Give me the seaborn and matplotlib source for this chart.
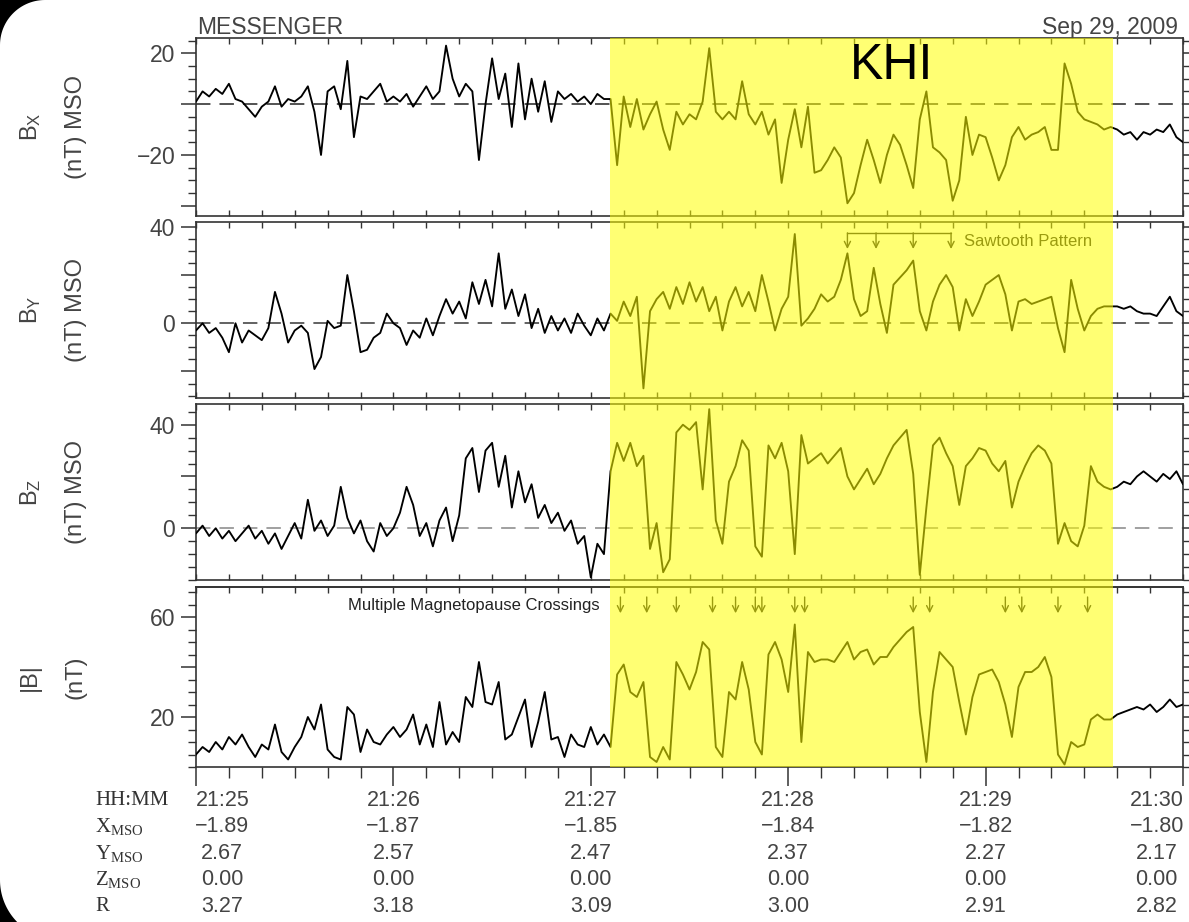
import numpy as np
import pandas as pd
import seaborn as sns
import matplotlib
matplotlib.use("Agg")
import matplotlib.pyplot as plt
from matplotlib.patches import Rectangle, Polygon
from matplotlib.transforms import blended_transform_factory
from matplotlib.ticker import MultipleLocator, FixedLocator, FuncFormatter

# ---------------- data ----------------
# seconds after 21:25:00, 2-s sampling
seconds = np.arange(0, 301, 2)

bx = [1, 5, 3, 6, 4, 8, 2, 1, -2, -5,
      -1, 1, 7, -1, 2, 1, 3, 7, -3, -20,
      5, 7, -2, 17, -13, 3, 2, 5, 8, 1,
      3, 1, 4, -1, 3, 7, 2, 5, 23, 10,
      3, 8, 5, -22, 0, 18, 2, 12, -9, 16,
      -6, 10, -3, 9, -7, 5, 2, 4, 1, 3,
      0, 4, 2, 2, -24, 3, -9, 2, -10, -4,
      1, -10, -18, -3, -8, -4, -6, 1, 22, -3,
      -6, -3, -6, 9, -4, -8, -3, -12, -6, -31,
      -14, -2, -17, -1, -27, -26, -22, -17, -21, -39,
      -35, -24, -14, -22, -31, -20, -12, -16, -24, -33,
      -6, 5, -17, -19, -22, -38, -30, -5, -20, -12,
      -13, -21, -30, -24, -13, -9, -14, -12, -11, -9,
      -18, -18, 16, 8, -3, -6, -7, -8, -10, -9,
      -10, -12, -11, -14, -11, -12, -10, -11, -8, -13,
      -15]

by = [-3, 0, -4, -2, -6, -12, 0, -8, -3, -5,
      -7, -2, 13, 4, -8, -3, -1, -4, -19, -14,
      1, -2, -1, 20, 5, -12, -11, -6, -4, 4,
      0, -2, -9, -3, -6, 2, -5, 3, 10, 4,
      9, 2, 17, 8, 18, 7, 29, 6, 14, 3,
      12, -2, 6, -4, 3, -3, 2, -4, 4, -1,
      -5, 2, -3, 4, 1, 9, 3, 11, -27, 5,
      10, 13, 6, 15, 8, 17, 9, 15, 5, 11,
      -3, 9, 15, 7, 13, 5, 20, 9, -3, 6,
      11, 37, -1, 2, 6, 12, 9, 11, 18, 29,
      10, 3, 5, 23, 8, -4, 16, 19, 22, 26,
      5, -3, 9, 16, 20, 15, -3, 10, 3, 9,
      16, 18, 20, 12, -3, 9, 10, 8, 9, 10,
      11, -2, -12, 18, 6, -3, 3, 6, 7, 7,
      7, 6, 7, 5, 4, 4, 3, 7, 11, 5,
      3]

bz = [-2, 1, -3, 0, -4, -1, -5, -2, 1, -4,
      -1, -6, -2, -8, -3, 2, -4, 11, -1, 3,
      -3, 1, 16, 4, -2, 3, -5, -9, 2, -3,
      0, 6, 16, 9, -3, 2, -7, 3, 8, -5,
      5, 27, 31, 14, 30, 33, 16, 28, 8, 22,
      10, 17, 4, 9, 2, 6, -1, 3, -6, -3,
      -19, -6, -10, 22, 33, 26, 33, 24, 28, -8,
      2, -17, -12, 37, 40, 38, 41, 15, 46, 3,
      -6, 18, 24, 34, 30, -7, -11, 32, 27, 33,
      22, -10, 36, 25, 27, 29, 25, 28, 31, 20,
      15, 19, 23, 17, 21, 27, 32, 35, 38, 21,
      -18, 8, 32, 35, 29, 24, 9, 24, 27, 31,
      30, 25, 22, 26, 8, 18, 24, 29, 32, 30,
      25, -6, 2, -5, -7, 1, 24, 18, 16, 15,
      16, 18, 17, 20, 22, 20, 18, 21, 19, 22,
      17]

btot = [5, 8, 6, 10, 7, 12, 9, 13, 8, 4,
        9, 7, 17, 6, 3, 8, 12, 20, 15, 25,
        7, 4, 3, 24, 21, 6, 15, 10, 9, 13,
        16, 12, 15, 21, 9, 17, 8, 26, 9, 14,
        10, 28, 24, 42, 26, 25, 34, 11, 13, 20,
        27, 8, 18, 30, 11, 12, 4, 13, 9, 8,
        16, 9, 13, 8, 37, 41, 30, 28, 34, 4,
        2, 8, 3, 42, 37, 31, 38, 50, 47, 8,
        4, 30, 27, 42, 31, 10, 5, 45, 50, 43,
        30, 57, 10, 46, 42, 43, 43, 42, 46, 50,
        43, 46, 47, 41, 44, 44, 48, 51, 54, 56,
        22, 2, 30, 46, 43, 40, 26, 13, 28, 37,
        38, 39, 34, 25, 12, 32, 38, 38, 40, 44,
        36, 5, 1, 10, 8, 9, 19, 21, 19, 19,
        21, 22, 23, 24, 23, 25, 22, 24, 27, 24,
        25]

khi_start, khi_end = 125.8, 278.7            # seconds
crossing_times = [129, 137, 146, 157, 164, 170, 172, 182, 185,
                  218, 223, 246, 251, 262, 271]
sawtooth_times = [198, 206.7, 218, 229.5]

time_labels = ["21:25", "21:26", "21:27", "21:28", "21:29", "21:30"]
x_mso = ["\u22121.89", "\u22121.87", "\u22121.85", "\u22121.84", "\u22121.82", "\u22121.80"]
y_mso = ["2.67", "2.57", "2.47", "2.37", "2.27", "2.17"]
z_mso = ["0.00", "0.00", "0.00", "0.00", "0.00", "0.00"]
r_vals = ["3.27", "3.18", "3.09", "3.00", "2.91", "2.82"]

df = pd.DataFrame({"t": seconds, "bx": bx, "by": by, "bz": bz, "b": btot})

# ---------------- style ----------------
sns.set_theme(style="ticks")
plt.rcParams["font.family"] = ["Liberation Sans", "DejaVu Sans"]
plt.rcParams["mathtext.default"] = "regular"
plt.rcParams["axes.edgecolor"] = "#333333"
plt.rcParams["axes.linewidth"] = 1.2

W, H = 1189, 922
fig = plt.figure(figsize=(W / 100, H / 100), dpi=100)
fig.patch.set_facecolor("white")

def rect(top, bottom):
    return [196 / W, 1 - bottom / H, 987 / W, (bottom - top) / H]

GRAY = "#444444"
panels = [
    ("bx", rect(38, 216), (-44, 26), [-40, -20, 0, 20], {-20, 20}, "B$_X$", "(nT) MSO", "#444444"),
    ("by", rect(222, 398), (-31, 42), [-20, 0, 20, 40], {0, 40}, "B$_Y$", "(nT) MSO", "#555555"),
    ("bz", rect(404, 580), (-20, 48), [0, 20, 40], {0, 40}, "B$_Z$", "(nT) MSO", "#999999"),
    ("b", rect(587, 767), (0, 72), [20, 40, 60], {20, 60}, "|B|", "(nT)", None),
]

axes = []
for col, pos, ylim, majors, labelled, lab1, lab2, dash_col in panels:
    ax = fig.add_axes(pos)
    sns.lineplot(data=df, x="t", y=col, ax=ax, color="black", linewidth=1.35,
                 estimator=None, zorder=3)
    if dash_col is not None:
        ax.axhline(0, color=dash_col, lw=1.3, dashes=(8, 5), zorder=2)
    ax.set_xlim(0, 300)
    ax.set_ylim(*ylim)
    ax.set_xlabel("")
    ax.set_ylabel("")
    ax.set_facecolor("white")
    ax.yaxis.set_major_locator(FixedLocator(majors))
    ax.yaxis.set_minor_locator(MultipleLocator(5))
    ax.yaxis.set_major_formatter(FuncFormatter(
        lambda v, p, L=labelled: (f"{int(v)}".replace("-", "\u2212") if int(round(v)) in L else "")))
    ax.tick_params(axis="y", which="major", direction="out", left=True, right=True,
                   length=11, width=1.1, color="#333333", labelsize=16.5,
                   labelcolor=GRAY, pad=4)
    ax.tick_params(axis="y", which="minor", direction="out", left=True, right=True,
                   length=6, width=1.0, color="#333333")
    ax.xaxis.set_major_locator(MultipleLocator(60))
    ax.xaxis.set_minor_locator(MultipleLocator(10))
    ax.tick_params(axis="x", which="both", direction="in", top=True, bottom=True,
                   labelbottom=False, length=4, width=1.0, color="#333333")
    for s in ax.spines.values():
        s.set_color("#333333")
        s.set_linewidth(1.2)
    ax.text(-0.168, 0.5, lab1, transform=ax.transAxes, rotation=90, ha="center",
            va="center", fontsize=17, color=GRAY)
    ax.text(-0.122, 0.5, lab2, transform=ax.transAxes, rotation=90, ha="center",
            va="center", fontsize=17, color=GRAY)
    axes.append(ax)

ax1, ax2, ax3, ax4 = axes
# bottom axis: outward ticks below, inward ticks on top
ax4.tick_params(axis="x", which="both", direction="out", top=False, bottom=True)
ax4.tick_params(axis="x", which="major", length=14, width=1.1)
ax4.tick_params(axis="x", which="minor", length=8, width=1.0)
sec = ax4.secondary_xaxis("top")
sec.xaxis.set_major_locator(MultipleLocator(60))
sec.xaxis.set_minor_locator(MultipleLocator(10))
sec.tick_params(axis="x", which="both", direction="in", length=4, width=1.0,
                labeltop=False, color="#333333")
sec.spines["top"].set_color("#333333")

# ---------------- annotations ----------------
for t in sawtooth_times:
    ax2.annotate("", xy=(t, 30.8), xytext=(t, 37.5),
                 arrowprops=dict(arrowstyle="->", color="#222222", lw=1.0,
                                 shrinkA=0, shrinkB=0, mutation_scale=11))
ax2.plot([sawtooth_times[0], sawtooth_times[-1]], [37.5, 37.5], color="#222222", lw=1.0)
ax2.text(233.5, 33.8, "Sawtooth Pattern", fontsize=12, color="#222222",
         ha="left", va="center")

for t in crossing_times:
    ax4.annotate("", xy=(t, 61.5), xytext=(t, 68),
                 arrowprops=dict(arrowstyle="->", color="#222222", lw=1.0,
                                 shrinkA=0, shrinkB=0, mutation_scale=11))
ax4.text(122.8, 64.5, "Multiple Magnetopause Crossings", fontsize=12, color="#222222",
         ha="right", va="center")

# yellow KHI interval over all four panels
trans = blended_transform_factory(ax4.transData, fig.transFigure)
y_lo = 1 - 767 / H
y_hi = 1 - 38 / H
fig.add_artist(Rectangle((khi_start, y_lo), khi_end - khi_start, y_hi - y_lo,
                         transform=trans, facecolor="#ffff00", edgecolor="none",
                         alpha=0.55, zorder=5))
fig.text(892 / W, 1 - 66 / H, "KHI", fontsize=36, color="black",
         ha="center", va="center", zorder=10)

# titles
fig.text(197 / W, 1 - 34 / H, "MESSENGER", fontsize=16.5, color=GRAY,
         ha="left", va="baseline")
fig.text(1178 / W, 1 - 34 / H, "Sep 29, 2009", fontsize=16.5, color=GRAY,
         ha="right", va="baseline")

# ---------------- ephemeris table ----------------
row_names = ["HH:MM", "X$_{MSO}$", "Y$_{MSO}$", "Z$_{MSO}$", "R"]
rows = [time_labels, x_mso, y_mso, z_mso, r_vals]
row_y = [800, 826.5, 853, 879.5, 906]
col_x = [8.0, 60, 120, 180, 240, 292]
ttrans = blended_transform_factory(ax4.transData, fig.transFigure)
for name, vals, yp in zip(row_names, rows, row_y):
    fig.text(95 / W, 1 - yp / H, name, fontsize=15, color="#333333",
             family=["Liberation Serif", "DejaVu Serif"], ha="left", va="center")
    for xv, v in zip(col_x, vals):
        fig.text(xv, 1 - yp / H, v, transform=ttrans, fontsize=15.5, color=GRAY,
                 ha="center", va="center")

# ---------------- rounded dark frame corners ----------------
Hi = H / 100
r1 = 0.45
th = np.linspace(np.pi / 2, np.pi, 30)
pts = [(0, Hi)] + [(r1 + r1 * np.cos(a), Hi - r1 + r1 * np.sin(a)) for a in th]
fig.add_artist(Polygon(pts, closed=True, transform=fig.dpi_scale_trans,
                       facecolor="black", edgecolor="none", zorder=20))
r2, cy = 0.6, 0.42
th2 = np.linspace(np.pi, np.pi + np.arcsin(cy / r2), 30)
pts2 = [(0, 0)] + [(r2 + r2 * np.cos(a), cy + r2 * np.sin(a)) for a in th2]
fig.add_artist(Polygon(pts2, closed=True, transform=fig.dpi_scale_trans,
                       facecolor="black", edgecolor="none", zorder=20))

fig.savefig("out.png", dpi=100)
